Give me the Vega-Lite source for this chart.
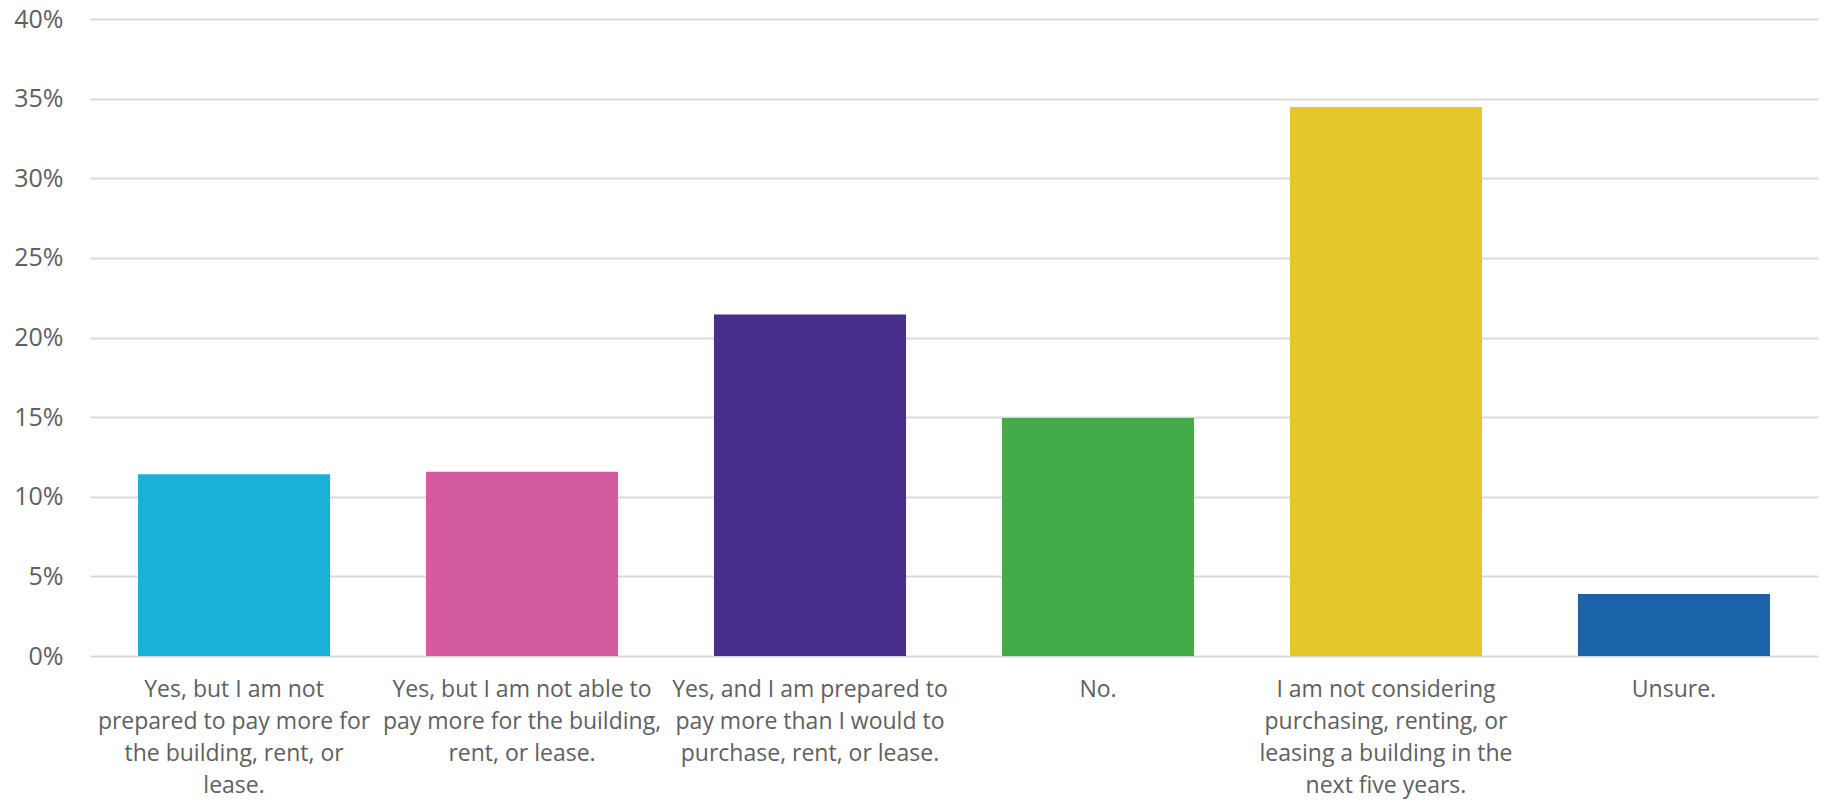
{
  "$schema": "https://vega.github.io/schema/vega-lite/v6.json",
  "autosize": "none",
  "width": 1728,
  "height": 637,
  "padding": {"left": 90, "top": 19, "right": 21, "bottom": 146},
  "background": "white",
  "data": {
    "values": [
      {"answer": "Yes, but I am not|prepared to pay more for|the building, rent, or|lease.", "share": 0.1142, "color": "#1AB0DA"},
      {"answer": "Yes, but I am not able to|pay more for the building,|rent, or lease.", "share": 0.1157, "color": "#D45B9E"},
      {"answer": "Yes, and I am prepared to|pay more than I would to|purchase, rent, or lease.", "share": 0.2144, "color": "#482E8D"},
      {"answer": "No.", "share": 0.1495, "color": "#43AC4A"},
      {"answer": "I am not considering|purchasing, renting, or|leasing a building in the|next five years.", "share": 0.3447, "color": "#E5C72B"},
      {"answer": "Unsure.", "share": 0.039, "color": "#1B64AB"}
    ]
  },
  "config": {
    "view": {"stroke": null},
    "font": "Open Sans"
  },
  "mark": {"type": "bar"},
  "encoding": {
    "x": {
      "field": "answer",
      "type": "nominal",
      "sort": null,
      "scale": {"paddingInner": 0.333, "paddingOuter": 0.1667},
      "axis": {
        "title": null,
        "labelAngle": 0,
        "labelExpr": "split(datum.label, '|')",
        "labelFontSize": 23,
        "labelColor": "#5F5F5F",
        "labelLineHeight": 32,
        "labelPadding": 22,
        "labelBaseline": "top",
        "labelLimit": 400,
        "ticks": false,
        "domain": false
      }
    },
    "y": {
      "field": "share",
      "type": "quantitative",
      "scale": {"domain": [0, 0.4]},
      "axis": {
        "title": null,
        "format": ".0%",
        "values": [0, 0.05, 0.1, 0.15, 0.2, 0.25, 0.3, 0.35, 0.4],
        "labelFontSize": 25,
        "labelColor": "#5F5F5F",
        "labelPadding": 27,
        "ticks": false,
        "domain": false,
        "gridColor": "#D9D9D9",
        "gridWidth": 2
      }
    },
    "color": {"field": "color", "type": "nominal", "scale": null, "legend": null}
  }
}
